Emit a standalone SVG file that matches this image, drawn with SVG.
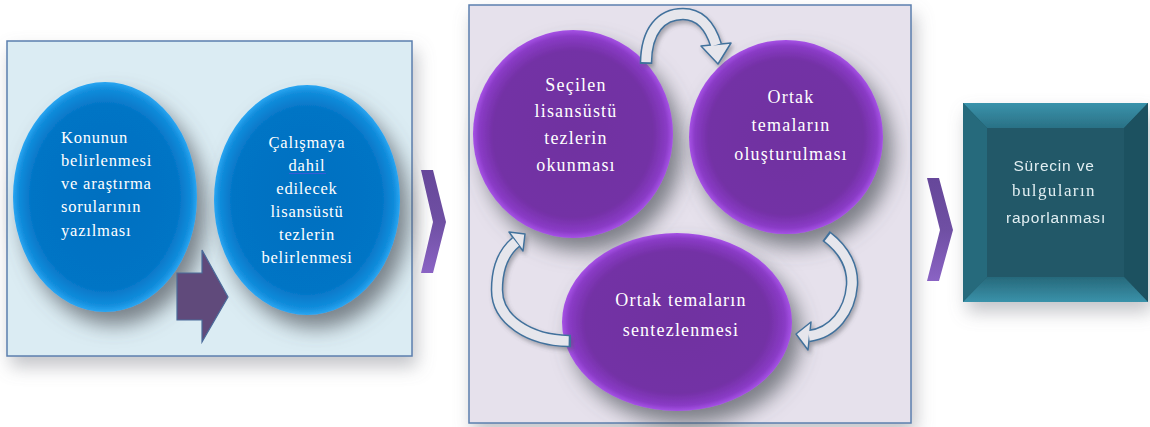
<svg xmlns="http://www.w3.org/2000/svg" width="1150" height="427" viewBox="0 0 1150 427">
  <defs>
    <filter id="psh" x="-10%" y="-10%" width="125%" height="130%">
      <feDropShadow dx="4" dy="10" stdDeviation="9" flood-color="#7a7f86" flood-opacity="0.45"/>
    </filter>
    <filter id="sh" x="-20%" y="-20%" width="150%" height="150%">
      <feDropShadow dx="9" dy="13" stdDeviation="10" flood-color="#50555c" flood-opacity="0.7"/>
    </filter>
    <filter id="ash" x="-20%" y="-20%" width="150%" height="150%">
      <feDropShadow dx="2" dy="3" stdDeviation="2" flood-color="#55585e" flood-opacity="0.45"/>
    </filter>
    <radialGradient id="gBlue" cx="0.5" cy="0.5" r="0.5">
      <stop offset="0" stop-color="#0070c0"/>
      <stop offset="0.8" stop-color="#0474c5"/>
      <stop offset="0.94" stop-color="#128ddc"/>
      <stop offset="1" stop-color="#2aa6f2"/>
    </radialGradient>
    <radialGradient id="gPurp" cx="0.5" cy="0.5" r="0.5">
      <stop offset="0" stop-color="#7030a0"/>
      <stop offset="0.8" stop-color="#7331a5"/>
      <stop offset="0.94" stop-color="#8a3bc6"/>
      <stop offset="1" stop-color="#a652e6"/>
    </radialGradient>
    <linearGradient id="gChev" x1="0" y1="0" x2="0" y2="1">
      <stop offset="0" stop-color="#66479a"/>
      <stop offset="0.5" stop-color="#6f4fa3"/>
      <stop offset="1" stop-color="#8a63c4"/>
    </linearGradient>
    <linearGradient id="gTop" x1="0" y1="0" x2="0" y2="1">
      <stop offset="0" stop-color="#3a93ab"/>
      <stop offset="1" stop-color="#2a7186"/>
    </linearGradient>
    <linearGradient id="gBot" x1="0" y1="0" x2="0" y2="1">
      <stop offset="0" stop-color="#27697b"/>
      <stop offset="1" stop-color="#3a92aa"/>
    </linearGradient>
    <style>
      .panel { stroke: #5b7fae; stroke-width: 1.5; }
      .tw { fill: #ffffff; font-family: "Liberation Serif", "DejaVu Serif", serif; }
      .t1 { font-size: 16.5px; letter-spacing: 0.8px; }
      .t2 { font-size: 18px; letter-spacing: 1.2px; text-anchor: middle; }
      .ca-out { fill: none; stroke: #41719c; stroke-width: 12.5; }
      .ca-in { fill: none; stroke: #e6e6ec; stroke-width: 9.5; }
      .ca-head { fill: #e6e6ec; stroke: #41719c; stroke-width: 1.5; stroke-linejoin: round; }
      .chev { fill: url(#gChev); }
    </style>
  </defs>

  <rect width="1150" height="427" fill="#ffffff"/>

  <!-- left panel -->
  <g id="panel-left">
    <rect class="panel" x="7" y="41" width="405" height="315" fill="#dbecf3" filter="url(#psh)"/>
  </g>

  <!-- middle panel -->
  <g id="panel-middle">
    <rect class="panel" x="469" y="5" width="442" height="418" fill="#e6e1ec" filter="url(#psh)"/>
  </g>

  <g id="node-konu">
    <ellipse cx="105" cy="197" rx="92" ry="115" fill="url(#gBlue)" filter="url(#sh)"/>
    <text class="tw t1" x="61"><tspan x="61" y="143">Konunun</tspan><tspan x="61" y="166">belirlenmesi</tspan><tspan x="61" y="189">ve araştırma</tspan><tspan x="61" y="212">sorularının</tspan><tspan x="61" y="236">yazılması</tspan></text>
  </g>

  <g id="node-calisma">
    <ellipse cx="307" cy="200" rx="93" ry="115" fill="url(#gBlue)" filter="url(#sh)"/>
    <text class="tw t1" text-anchor="middle"><tspan x="307" y="148">Çalışmaya</tspan><tspan x="307" y="171">dahil</tspan><tspan x="307" y="194">edilecek</tspan><tspan x="307" y="217">lisansüstü</tspan><tspan x="307" y="240">tezlerin</tspan><tspan x="307" y="263">belirlenmesi</tspan></text>
    <line x1="289" y1="173.5" x2="326" y2="173.5" stroke="#3b5bd6" stroke-width="1"/>
  </g>

  <g id="node-okuma">
    <ellipse cx="573" cy="134" rx="100" ry="104" fill="url(#gPurp)" filter="url(#sh)"/>
    <text class="tw t2"><tspan x="576" y="91">Seçilen</tspan><tspan x="576" y="117">lisansüstü</tspan><tspan x="576" y="144">tezlerin</tspan><tspan x="576" y="171">okunması</tspan></text>
  </g>

  <g id="node-temalar">
    <ellipse cx="786" cy="137" rx="97" ry="97" fill="url(#gPurp)" filter="url(#sh)"/>
    <text class="tw t2"><tspan x="791" y="103">Ortak</tspan><tspan x="791" y="131">temaların</tspan><tspan x="791" y="160">oluşturulması</tspan></text>
  </g>

  <g id="node-sentez">
    <ellipse cx="677" cy="322" rx="115" ry="89" fill="url(#gPurp)" filter="url(#sh)"/>
    <text class="tw t2"><tspan x="681" y="306">Ortak temaların</tspan><tspan x="681" y="336">sentezlenmesi</tspan></text>
  </g>

  <g id="node-rapor" filter="url(#psh)">
    <rect x="963" y="103" width="185" height="199" fill="#215968"/>
    <polygon points="963,103 1148,103 1124,128 987,128" fill="url(#gTop)"/>
    <polygon points="963,103 987,128 987,277 963,302" fill="#256a7c"/>
    <polygon points="1148,103 1148,302 1124,277 1124,128" fill="#1d5160"/>
    <polygon points="963,302 987,277 1124,277 1148,302" fill="url(#gBot)"/>
    <rect x="987" y="128" width="137" height="149" fill="#215968"/>
    <text fill="#e2eef2" text-anchor="middle">
      <tspan x="1056" y="171" font-family="Liberation Sans, Arial, sans-serif" font-size="15.5" letter-spacing="0.8">Sürecin ve</tspan>
      <tspan x="1056" y="196" font-family="Liberation Serif, serif" font-size="17" letter-spacing="1.4">bulguların</tspan>
      <tspan x="1056" y="223" font-family="Liberation Sans, Arial, sans-serif" font-size="15.5" letter-spacing="0.8">raporlanması</tspan>
    </text>
  </g>

  <!-- connectors -->
  <g id="connectors">
    <!-- block arrow in left panel -->
    <polygon points="177,273 202,273 202,250 228,297 202,342 202,320 177,320" fill="#604a7b" stroke="#4a6a9a" stroke-width="1.2"/>
    <!-- chevrons -->
    <polygon class="chev" points="421,170 433,170 446,222 433,273 421,273 433,222"/>
    <polygon class="chev" points="927,178 939,178 953,230 939,281 927,281 940,230"/>

    <!-- top curved arrow -->
    <g filter="url(#ash)">
      <path class="ca-out" d="M646,64 C646,31 661,14 683,14 C702,14 711,29 716,45"/>
      <polygon class="ca-head" points="701,46 731,43 718,64"/>
      <path class="ca-in" pathLength="100" stroke-dasharray="0 1.5 200" d="M646,64 C646,31 661,14 683,14 C702,14 711,29 716,45"/>
    </g>
    <!-- left curved arrow -->
    <g filter="url(#ash)">
      <path class="ca-out" d="M571,341 C530,341 497,320 497,290 C497,266 505,251 516,242"/>
      <polygon class="ca-head" points="509,232 523,251 525,234"/>
      <path class="ca-in" pathLength="100" stroke-dasharray="0 1.5 200" d="M571,341 C530,341 497,320 497,290 C497,266 505,251 516,242"/>
    </g>
    <!-- right curved arrow -->
    <g filter="url(#ash)">
      <path class="ca-out" d="M826,236 C845,250 853,268 852,285 C850,312 833,333 809,336"/>
      <polygon class="ca-head" points="811,322 808,350 796,334"/>
      <path class="ca-in" pathLength="100" stroke-dasharray="0 1.5 200" d="M826,236 C845,250 853,268 852,285 C850,312 833,333 809,336"/>
    </g>
  </g>
</svg>
